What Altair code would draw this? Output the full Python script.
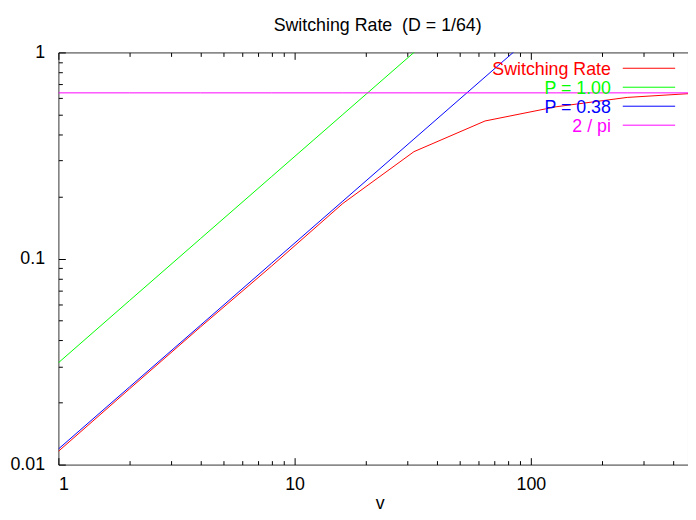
import altair as alt
import pandas as pd

# ---- data ----
v_values = [1, 2, 4, 8, 16, 32, 64, 128, 256, 512]
switching_rate = [0.0116, 0.0233, 0.0466, 0.092, 0.185, 0.33, 0.465, 0.545, 0.605, 0.635]
p_100 = [0.0312, 0.0625, 0.125, 0.25, 0.5, 1.0, 2.0, 4.0, 8.0, 16.0]
p_038 = [0.0119, 0.0238, 0.0475, 0.095, 0.19, 0.38, 0.76, 1.52, 3.04, 6.08]
two_over_pi = [0.6366] * 10

series_names = ["Switching Rate", "P = 1.00", "P = 0.38", "2 / pi"]
series_colors = ["#ff0000", "#00ff00", "#0000ff", "#ff00ff"]
series_values = [switching_rate, p_100, p_038, two_over_pi]

x_major = [1, 10, 100]
x_minor = [2, 3, 4, 5, 6, 7, 8, 9, 20, 30, 40, 50, 60, 70, 80, 90, 200, 300, 400]
y_major = [0.01, 0.1, 1]
y_minor = [0.02, 0.03, 0.04, 0.05, 0.06, 0.07, 0.08, 0.09,
           0.2, 0.3, 0.4, 0.5, 0.6, 0.7, 0.8, 0.9]

TITLE = "Switching Rate\u00a0 (D = 1/64)"
X_MAX = 462.8
FONT = "Liberation Sans"

rows = []
for name, vals in zip(series_names, series_values):
    for vv, r in zip(v_values, vals):
        rows.append({"v": vv, "rate": r, "series": name})
df = pd.DataFrame(rows)

x_scale = alt.Scale(type="log", domain=[1, X_MAX], nice=False)
y_scale = alt.Scale(type="log", domain=[0.01, 1], nice=False)

MAJ = 7
MIN = 4

base = alt.Chart(df)

lines = base.mark_line(clip=True, strokeWidth=1).encode(
    x=alt.X("v:Q", scale=x_scale,
            axis=alt.Axis(orient="bottom", values=x_major, format="~g",
                          offset=-MAJ, tickSize=MAJ, labelPadding=11,
                          title="v", titlePadding=1, titleX=325)),
    y=alt.Y("rate:Q", scale=y_scale,
            axis=alt.Axis(orient="left", values=y_major, format="~g",
                          offset=-MAJ, tickSize=MAJ, labelPadding=14,
                          title=None)),
    color=alt.Color("series:N", scale=alt.Scale(domain=series_names, range=series_colors),
                    legend=None),
)

minor_bl = base.mark_line(opacity=0).encode(
    x=alt.X("v:Q", scale=x_scale,
            axis=alt.Axis(orient="bottom", values=x_minor, labels=False,
                          offset=-MIN, tickSize=MIN, title=None)),
    y=alt.Y("rate:Q", scale=y_scale,
            axis=alt.Axis(orient="left", values=y_minor, labels=False,
                          offset=-MIN, tickSize=MIN, title=None)),
    detail="series:N",
)

top_major = base.mark_line(opacity=0).encode(
    x=alt.X("v:Q", scale=x_scale,
            axis=alt.Axis(orient="top", values=x_major, labels=False,
                          offset=-MAJ, tickSize=MAJ, title=None)),
    y=alt.Y("rate:Q", scale=y_scale, axis=None),
    detail="series:N",
)

top_minor = base.mark_line(opacity=0).encode(
    x=alt.X("v:Q", scale=x_scale,
            axis=alt.Axis(orient="top", values=x_minor, labels=False,
                          offset=-MIN, tickSize=MIN, title=None)),
    y=alt.Y("rate:Q", scale=y_scale, axis=None),
    detail="series:N",
)

one = alt.Data(values=[{"k": 1}])

# chart title drawn as text above the plot area
title_layer = alt.Chart(one).mark_text(
    align="center", baseline="alphabetic", font=FONT, fontSize=18,
    color="black", text=TITLE
).encode(x=alt.value(323), y=alt.value(-22))

# ---- in-plot legend (text right-aligned, sample line to the right) ----
legend_layers = []
LEG_TEXT_X = 559
LEG_LINE_X1 = 571
LEG_LINE_X2 = 624
LEG_Y0 = 16
LEG_DY = 19.2
for i, (name, col) in enumerate(zip(series_names, series_colors)):
    yy = LEG_Y0 + i * LEG_DY
    legend_layers.append(
        alt.Chart(one).mark_text(align="right", baseline="alphabetic", font=FONT,
                                 fontSize=18, color=col, text=name)
        .encode(x=alt.value(LEG_TEXT_X), y=alt.value(yy + 6.5))
    )
    legend_layers.append(
        alt.Chart(one).mark_rule(color=col, strokeWidth=1)
        .encode(x=alt.value(LEG_LINE_X1), x2=alt.value(LEG_LINE_X2), y=alt.value(yy))
    )

chart = alt.layer(lines, minor_bl, top_major, top_minor, title_layer, *legend_layers).resolve_axis(
    x="independent", y="independent"
).properties(
    width=637,
    height=417,
    autosize=alt.AutoSizeParams(type="none"),
    padding={"left": 51, "top": 42, "right": 0, "bottom": 45},
).configure_view(
    stroke="#333333", strokeWidth=1
).configure_axis(
    grid=False, domain=False, tickColor="black", tickWidth=1,
    labelColor="black", labelFont=FONT, labelFontSize=18,
    titleColor="black", titleFont=FONT, titleFontSize=18, titleFontWeight="normal",
)

chart.save("out.html", embed_options={"renderer": "svg", "actions": False})
